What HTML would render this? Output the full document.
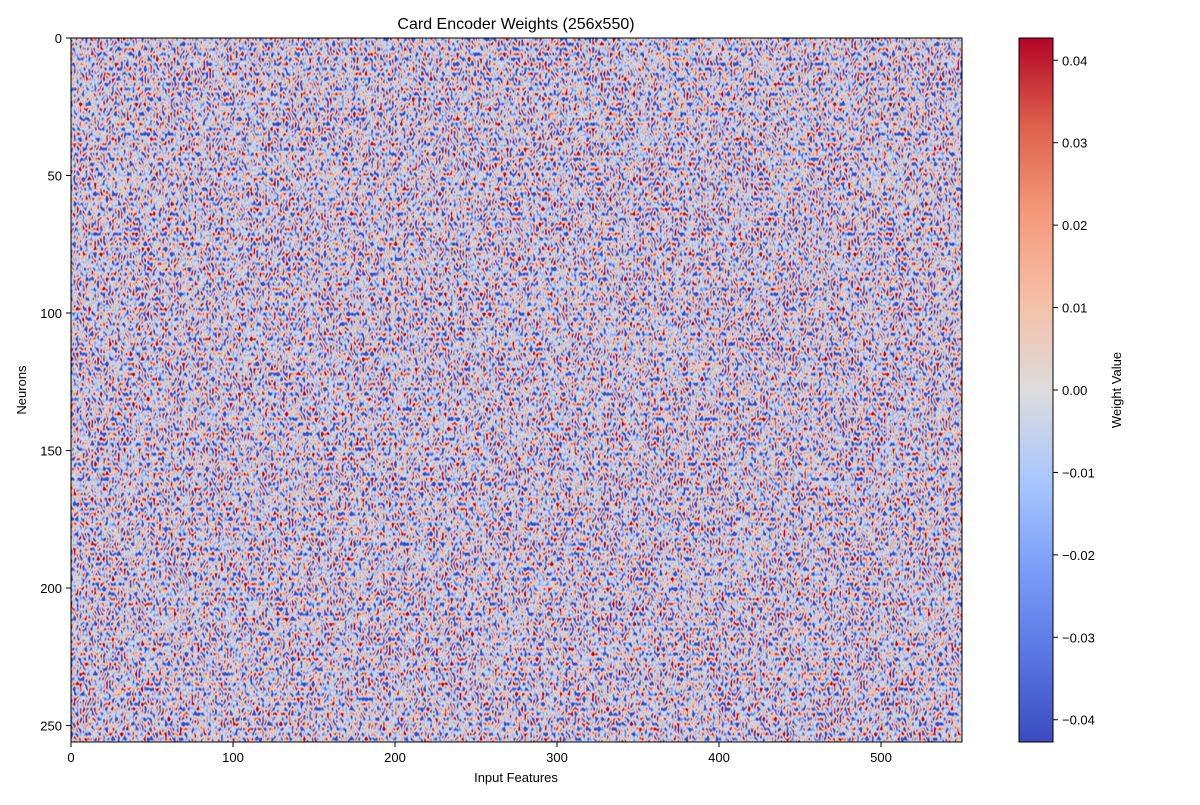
<!DOCTYPE html>
<html><head><meta charset="utf-8">
<style>
html,body{margin:0;padding:0;background:#fff;}
svg text{font-family:"Liberation Sans",sans-serif;fill:#000;}
</style></head>
<body>
<svg id="chart" width="1200" height="800" viewBox="0 0 1200 800">
<defs>
<filter id="noise" x="0" y="0" width="100%" height="100%" filterUnits="objectBoundingBox" color-interpolation-filters="sRGB">
  <feTurbulence type="fractalNoise" baseFrequency="0.55" numOctaves="1" seed="7" result="t"/>
  <feColorMatrix in="t" type="matrix" values="2.3 0 0 0 -0.70  2.3 0 0 0 -0.70  2.3 0 0 0 -0.70  0 0 0 0 1" result="c"/>
  <feComponentTransfer in="c">
    <feFuncR type="table" tableValues="0.23 0.55 0.87 0.96 0.71"/>
    <feFuncG type="table" tableValues="0.30 0.69 0.86 0.60 0.02"/>
    <feFuncB type="table" tableValues="0.75 0.99 0.86 0.48 0.15"/>
    <feFuncA type="table" tableValues="1 1"/>
  </feComponentTransfer>
</filter>
<linearGradient id="cw" x1="0" y1="1" x2="0" y2="0">
  <stop offset="0" stop-color="#3b4cc0"/>
  <stop offset="0.125" stop-color="#5977e3"/>
  <stop offset="0.25" stop-color="#7b9ff9"/>
  <stop offset="0.375" stop-color="#aac7fd"/>
  <stop offset="0.5" stop-color="#dddcdc"/>
  <stop offset="0.625" stop-color="#f6bfa6"/>
  <stop offset="0.75" stop-color="#f49a7b"/>
  <stop offset="0.875" stop-color="#de604d"/>
  <stop offset="1" stop-color="#b40426"/>
</linearGradient>
<clipPath id="plotclip"><rect x="71" y="38" width="891" height="704"/></clipPath>
</defs>
<text x="516" y="29" font-size="16" text-anchor="middle">Card Encoder Weights (256x550)</text>
<g clip-path="url(#plotclip)">
  <g transform="translate(71,38) scale(1.62,2.75)">
    <rect x="0" y="0" width="550" height="256" filter="url(#noise)"/>
  </g>
</g>
<rect x="71" y="38" width="891" height="704" fill="none" stroke="#000" stroke-width="1"/>
<g id="xticks"></g>
<g id="yticks"></g>
<text x="516" y="782" font-size="13" text-anchor="middle">Input Features</text>
<text x="26" y="390" font-size="13" text-anchor="middle" transform="rotate(-90 26 390)">Neurons</text>
<rect x="1019" y="38" width="34" height="704" fill="url(#cw)" stroke="#000" stroke-width="1"/>
<g id="cticks"></g>
<text x="1121" y="390" font-size="13" text-anchor="middle" transform="rotate(-90 1121 390)">Weight Value</text>
</svg>
<script>
const xTickValues = [0, 100, 200, 300, 400, 500];
const yTickValues = [0, 50, 100, 150, 200, 250];
const cTickValues = [-0.04, -0.03, -0.02, -0.01, 0.00, 0.01, 0.02, 0.03, 0.04];
const nCols = 550, nRows = 256, vMax = 0.0427;

const NS = "http://www.w3.org/2000/svg";
const xScale = v => 71 + v * 891 / nCols;
const yScale = v => 38 + v * 704 / nRows;
const cScale = v => 390 - v * 352 / vMax;

function mk(tag, attrs, parent) {
  const e = document.createElementNS(NS, tag);
  for (const k in attrs) e.setAttribute(k, attrs[k]);
  parent.appendChild(e);
  return e;
}
const gx = document.getElementById('xticks');
xTickValues.forEach(v => {
  const x = xScale(v);
  const l = mk('line', {x1: x, x2: x, y1: 742, y2: 747, stroke: '#000'}, gx);
  
  
  const t = mk('text', {x: x, y: 762, 'font-size': 13, 'text-anchor': 'middle'}, gx);
  t.textContent = v;
  
  
});
const gy = document.getElementById('yticks');
yTickValues.forEach(v => {
  const y = yScale(v);
  const l = mk('line', {x1: 66, x2: 71, y1: y, y2: y, stroke: '#000'}, gy);
  
  
  const t = mk('text', {x: 62, y: y + 5, 'font-size': 13, 'text-anchor': 'end'}, gy);
  t.textContent = v;
  
  
});
const gc = document.getElementById('cticks');
cTickValues.forEach(v => {
  const y = cScale(v);
  const l = mk('line', {x1: 1053, x2: 1058, y1: y, y2: y, stroke: '#000'}, gc);
  
  
  const t = mk('text', {x: 1062, y: y + 5, 'font-size': 13}, gc);
  t.textContent = (v < 0 ? '\u2212' : '') + Math.abs(v).toFixed(2);
  
  
});
</script>
</body></html>
